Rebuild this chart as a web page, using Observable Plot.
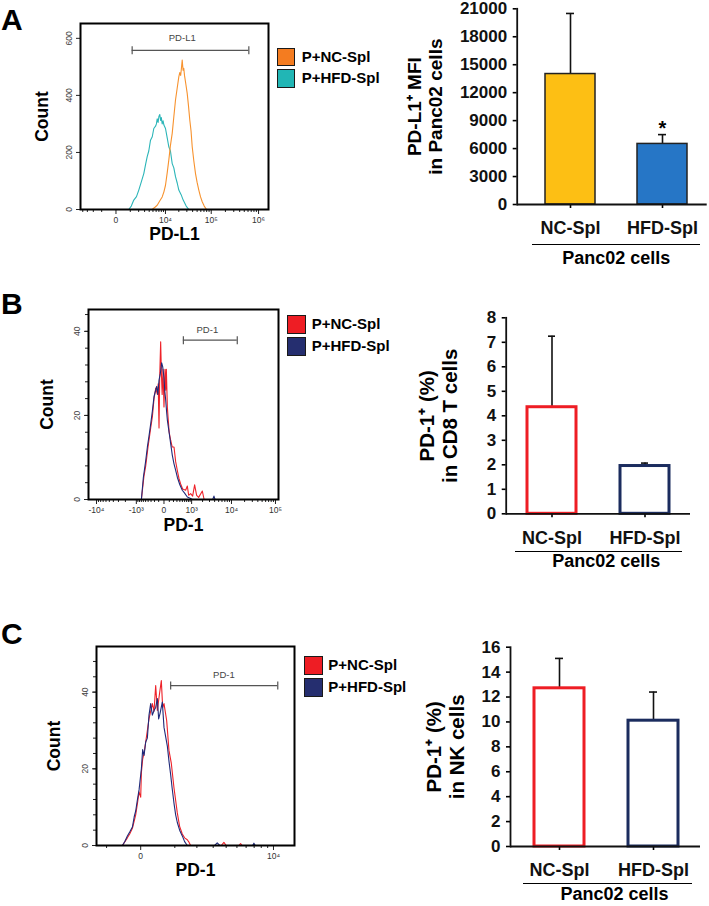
<!DOCTYPE html>
<html><head><meta charset="utf-8">
<script src="https://cdn.jsdelivr.net/npm/d3@7"></script>
<script src="https://cdn.jsdelivr.net/npm/@observablehq/plot@0.6"></script>
<style>
body{margin:0;background:#fff;}
#fig{position:relative;width:709px;height:906px;overflow:hidden;font-family:"Liberation Sans",Arial,sans-serif;color:#000;}
.abs{position:absolute;}
.letter{position:absolute;font-weight:bold;font-size:30px;line-height:30px;}
.lg{position:absolute;font-weight:bold;font-size:15px;white-space:nowrap;}
.sw{position:absolute;box-sizing:border-box;border:1.5px solid #1a1a1a;}
.ul{position:absolute;height:0;border-top:1.6px solid #000;}
</style></head><body><div id="fig"></div>
<script>
// ---------- shared categories ----------
const groups = ["NC-Spl", "HFD-Spl"];
const legendNames = ["P+NC-Spl", "P+HFD-Spl"];

// ---------- Panel A histogram (PD-L1 on Panc02) ----------
const aNcX = [4780, 5600, 6370, 7200, 8390, 9200, 10020, 11000, 11930, 13000, 14250, 15500, 16890, 18400, 20000, 21000, 22000, 23000, 23760, 24800, 25700, 26680, 28500, 30540, 32500, 34790, 37000, 39200, 42500, 46180, 50000, 54370, 59000, 64270, 71000, 79420];
const aNcN = [0, 8, 15, 28, 44, 62, 85, 130, 173, 225, 267, 325, 384, 425, 465, 480, 470, 500, 524, 488, 495, 470, 440, 407, 365, 313, 275, 220, 170, 126, 95, 68, 45, 27, 12, 0];
const aHfdX = [860, 1100, 1370, 1700, 2020, 2400, 2850, 3200, 3540, 3900, 4330, 4800, 5250, 5800, 6100, 6370, 6700, 7000, 7360, 7700, 8000, 8390, 8800, 9200, 10020, 11000, 11930, 13000, 14250, 15500, 16890, 18500, 20000, 22500, 24980, 29000, 33100];
const aHfdN = [0, 12, 33, 45, 68, 96, 126, 158, 185, 205, 243, 255, 284, 292, 300, 318, 305, 326, 333, 312, 322, 300, 311, 296, 284, 250, 220, 205, 161, 146, 115, 92, 68, 52, 33, 12, 0];
const aXTicks = [0, 1e4, 1e5, 1e6];
const aXTickLabels = ["0", "10⁴", "10⁵", "10⁶"];
const aYTicks = [0, 200, 400, 600];
const aGate = {x1: 1190, x2: 624000, y: 558, labelX: 23800, label: "PD-L1"};

// ---------- Panel B histogram (PD-1 on CD8 T) ----------
const bNcX = [-698, -568, -495, -404, -311, -259, -212, -168, -128, -110, -92, -78, -59, -45, -31, -16, 0, 17, 29, 41, 60, 73, 97, 130, 166, 214, 261, 313, 368, 431, 512, 650, 738, 813, 935, 1071, 1221, 1389, 1575, 1972, 2193];
const bNcN = [0, 5.7, 8, 12.5, 17, 19.7, 24, 26.5, 25, 27.5, 17, 29, 37.5, 30, 25, 31, 22, 31, 26, 31, 22, 19.7, 16, 14.1, 12.5, 12.5, 9, 6.9, 5, 3.7, 2.5, 2.2, 3.2, 1, 1.4, 0.8, 3.5, 1, 0.5, 2, 0];
const bHfdX = [-698, -599, -500, -428, -370, -311, -260, -212, -168, -144, -118, -92, -65, -40, -22, 0, 12, 29, 45, 60, 95, 130, 170, 214, 260, 313, 400, 498, 600, 738, 900, 1048, 3600, 3855, 4100];
const bHfdN = [0, 5.3, 9, 12.5, 15, 18, 21, 24.5, 26, 26.9, 25, 28.4, 30, 32.5, 31.6, 29, 26, 23.7, 21, 18.9, 16, 13.3, 10.5, 8.5, 7, 5.3, 3.5, 2.2, 1.5, 0.6, 0.3, 0, 0, 0.8, 0];
const bXTicks = [-1e4, -1e3, 0, 1e3, 1e4, 1e5];
const bXTickLabels = ["-10⁴", "-10³", "0", "10³", "10⁴", "10⁵"];
const bYTicks = [0, 20, 40];
const bGate = {x1: 543, x2: 13600, y: 37.9, labelX: 2650, label: "PD-1"};

// ---------- Panel C histogram (PD-1 on NK) ----------
const cNcX = [-469, -328, -266, -196, -115, -74, -37, 0, 15, 44, 76, 155, 196, 283, 328, 374, 421, 475, 539, 581, 623, 710, 788, 871, 969, 1096, 1189, 1301, 1401, 1522, 1608, 1680, 3600, 3810, 4000, 5200, 5380, 5550];
const cNcN = [0, 2, 3, 4.5, 8, 11, 14, 12.6, 19, 22.5, 24, 30, 33, 37, 35, 41.7, 35.2, 39, 43, 36, 37, 32.6, 24.8, 21.4, 15, 8.5, 5, 3, 2, 1.5, 0.8, 0, 0, 0.8, 0, 0, 0.5, 0];
const cHfdX = [-469, -402, -328, -266, -196, -151, -115, -74, -37, 15, 44, 76, 115, 155, 196, 239, 283, 328, 374, 421, 459, 499, 570, 623, 731, 788, 847, 900, 969, 1032, 1096, 1189, 1301, 1401, 1522, 3100, 3290, 3480, 6800, 6970, 7150];
const cHfdN = [0, 1, 2.5, 3.5, 4.8, 7.5, 9, 12, 14.5, 20, 25, 23.5, 27, 28, 34, 37, 34, 35.2, 36, 38.3, 33, 34.4, 37.4, 30.8, 26, 22, 18.5, 15, 11, 8, 6, 4, 2.5, 1, 0, 0, 0.7, 0, 0, 0.6, 0];
const cXTicks = [0, 1e4];
const cXTickLabels = ["0", "10⁴"];
const cYTicks = [0, 20, 40];
const cGate = {x1: 847, x2: 10800, y: 41.7, labelX: 3810, label: "PD-1"};

// ---------- Bar charts ----------
const mfiMean = [14000, 6500];
const mfiErr = [6500, 1000];
const mfiSig = ["", "*"];
const mfiTicks = [0, 3000, 6000, 9000, 12000, 15000, 18000, 21000];

const cd8Mean = [4.35, 1.95];
const cd8Err = [2.9, 0.12];
const cd8Ticks = [0, 1, 2, 3, 4, 5, 6, 7, 8];

const nkMean = [12.7, 10.1];
const nkErr = [2.4, 2.3];
const nkTicks = [0, 2, 4, 6, 8, 10, 12, 14, 16];

// ---------- helpers ----------
const mult = (base, from, to) => d3.range(from, to + 1).map(m => m * base);
const aXMinor = [-4000, -3000, -2000, -1000, ...mult(1e3, 1, 9), ...mult(1e4, 2, 9), ...mult(1e5, 2, 9)];
const bXMinor = [...mult(-1e3, 2, 9), ...mult(-1e2, 1, 9), ...mult(1e2, 1, 9), ...mult(1e3, 2, 9), ...mult(1e4, 2, 9)];
const cXMinor = [-1000, ...mult(1e3, 1, 9)];
const fontFamily = "Liberation Sans, Arial, sans-serif";
const fig = document.getElementById("fig");

function place(node, left, top) {
  const d = document.createElement("div");
  d.className = "abs"; d.style.left = left + "px"; d.style.top = top + "px";
  d.appendChild(node); fig.appendChild(d);
}
const capSymbol = {draw(ctx, size) { const r = Math.sqrt(size / Math.PI); ctx.moveTo(0, -r); ctx.lineTo(0, r); }};

function hist(o) {
  const labelOf = new Map(o.xTicks.map((t, i) => [t, o.xLabels[i]]));
  const marks = [
    Plot.axisX({ticks: o.xMinor, tickSize: 3, tickFormat: () => "", label: null, stroke: "#222"}),
    Plot.axisX({ticks: o.xTicks, tickSize: 5, tickPadding: 2, tickFormat: d => labelOf.get(d), label: null, fontSize: 8.5, fill: "#333", stroke: "#222"}),
    Plot.axisY({ticks: o.yMinor, tickSize: 3, tickFormat: () => "", label: null, stroke: "#222"}),
    Plot.axisY({ticks: o.yTicks, tickSize: 4, tickFormat: () => "", label: null, stroke: "#222"}),
    Plot.text(o.yTicks, {y: d => d, frameAnchor: "left", dx: -11, rotate: -90, textAnchor: "middle", text: d => String(d), fontSize: 8.5, fill: "#444"})
  ];
  for (const s of o.series) {
    marks.push(Plot.line(s.x.map((x, i) => ({x, y: s.n[i]})), {x: "x", y: "y", stroke: s.color, strokeWidth: 1.1}));
  }
  const g = o.gate;
  marks.push(
    Plot.ruleY([g.y], {x1: g.x1, x2: g.x2, stroke: "#555", strokeWidth: 1.2}),
    Plot.dot([g.x1, g.x2], {x: d => d, y: g.y, r: 4, symbol: capSymbol, stroke: "#555", strokeWidth: 1.2}),
    Plot.text([g.label], {x: g.labelX, y: g.y, dy: o.gateDy, text: d => d, fontSize: 9.5, fill: "#444"}),
    Plot.frame({stroke: "#000", strokeWidth: 2}),
    Plot.text([o.xTitle], {text: d => d, frameAnchor: "bottom", dy: o.xTitleDy, fontSize: 17.5, fontWeight: "bold"}),
    Plot.text(["Count"], {text: d => d, frameAnchor: "left", dx: o.countDx, rotate: -90, textAnchor: "middle", fontSize: 17.5, fontWeight: "bold"})
  );
  return Plot.plot({
    width: o.width, height: o.height,
    marginLeft: o.m[0], marginRight: o.m[1], marginTop: o.m[2], marginBottom: o.m[3],
    style: {fontFamily, background: "transparent", overflow: "visible"},
    x: {type: "symlog", constant: o.constant, domain: o.xDomain},
    y: {domain: o.yDomain},
    marks
  });
}

function bars(o) {
  const rows = groups.map((g, i) => ({g, v: o.mean[i], top: o.mean[i] + o.err[i], sig: o.sig ? o.sig[i] : ""}));
  const marks = [];
  rows.forEach((r, i) => {
    marks.push(Plot.ruleX([r], {x: "g", y1: "v", y2: "top", stroke: "#111", strokeWidth: 1.6}));
    marks.push(Plot.tickY([r], {x: "g", y: "top", insetLeft: o.capInset, insetRight: o.capInset, stroke: "#111", strokeWidth: 1.6}));
    marks.push(Plot.barY([r], {x: "g", y: "v", fill: o.fill[i], stroke: o.stroke[i], strokeWidth: o.sw}));
  });
  marks.push(
    Plot.text(rows.filter(d => d.sig), {x: "g", y: "top", text: "sig", dy: -6.5, fontSize: 20, fontWeight: "bold"}),
    Plot.axisY({ticks: o.ticks, tickSize: 4, tickPadding: 6, tickFormat: d => String(d), fontSize: 17, fontWeight: "bold", fill: "#111", label: null, strokeWidth: 1.6}),
    Plot.axisX({tickSize: 4, tickPadding: 13, fontSize: 18, fontWeight: "bold", fill: "#111", label: null, strokeWidth: 1.6}),
    Plot.ruleY([0], {stroke: "#111", strokeWidth: 1.8}),
    Plot.frame({anchor: "left", stroke: "#111", strokeWidth: 1.8}),
    Plot.text([o.title], {text: d => d, frameAnchor: "left", dx: o.titleDx, rotate: -90, textAnchor: "middle", fontSize: o.titleSize, fontWeight: "bold", lineHeight: 1.1}),
    Plot.text(["Panc02 cells"], {text: d => d, frameAnchor: "bottom", dx: o.groupDx, dy: o.groupDy, fontSize: 18, fontWeight: "bold"})
  );
  return Plot.plot({
    width: o.width, height: o.height,
    marginLeft: o.m[0], marginRight: o.m[1], marginTop: o.m[2], marginBottom: o.m[3],
    style: {fontFamily, background: "transparent", overflow: "visible"},
    x: {domain: groups, paddingInner: o.band[0], paddingOuter: o.band[1], align: o.band[2], axis: null},
    y: {domain: o.yDomain, axis: null},
    marks
  });
}

// ---------- draw histograms ----------
place(hist({
  width: 275, height: 260, m: [80, 7, 23, 51], constant: 1000, xDomain: [-4580, 1.62e6], yDomain: [0, 652],
  xTicks: aXTicks, xLabels: aXTickLabels, xMinor: aXMinor, yTicks: aYTicks, yMinor: [],
  series: [{x: aHfdX, n: aHfdN, color: "#2bb5b8"}, {x: aNcX, n: aNcN, color: "#f7922e"}],
  gate: aGate, gateDy: -12.7, xTitle: "PD-L1", xTitleDy: 30, countDx: -38
}), 0, 0);

place(hist({
  width: 285, height: 270, m: [88, 7, 19, 61], constant: 315, xDomain: [-15280, 117000], yDomain: [0, 45.2],
  xTicks: bXTicks, xLabels: bXTickLabels, xMinor: bXMinor, yTicks: bYTicks, yMinor: mult(4, 0, 11),
  series: [{x: bNcX, n: bNcN, color: "#ee2229"}, {x: bHfdX, n: bHfdN, color: "#1f2a7a"}],
  gate: bGate, gateDy: -10, xTitle: "PD-1", xTitleDy: 31, countDx: -41
}), 0, 290);

place(hist({
  width: 300, height: 300, m: [96, 6, 46, 55], constant: 1400, xDomain: [-1414, 14490], yDomain: [0, 51.9],
  xTicks: cXTicks, xLabels: cXTickLabels, xMinor: cXMinor, yTicks: cYTicks, yMinor: mult(4, 0, 12),
  series: [{x: cNcX, n: cNcN, color: "#ee2229"}, {x: cHfdX, n: cHfdN, color: "#1f2a7a"}],
  gate: cGate, gateDy: -11, xTitle: "PD-1", xTitleDy: 30, countDx: -42
}), 0, 600);

// ---------- draw bar charts ----------
place(bars({
  width: 349, height: 280, m: [156.7, 2.3, 8.3, 76], band: [0.455, 0.2523, 0.6],
  mean: mfiMean, err: mfiErr, sig: mfiSig, ticks: mfiTicks, yDomain: [0, 21000],
  fill: ["#fdbf14", "#2676c6"], stroke: ["#222", "#222"], sw: 1.5, capInset: 21,
  title: "PD-L1⁺ MFI\nin Panc02 cells", titleDx: -92.7, titleSize: 19, groupDx: 4, groupDy: 59.3
}), 360, 0);

place(bars({
  width: 349, height: 300, m: [145.7, 19, 27.3, 76.7], band: [0.468, 0.2216, 0.52],
  mean: cd8Mean, err: cd8Err, ticks: cd8Ticks, yDomain: [0, 8],
  fill: ["#fff", "#fff"], stroke: ["#ee1d24", "#1b2c5e"], sw: 3, capInset: 21,
  title: "PD-1⁺ (%)\nin CD8 T cells", titleDx: -68, titleSize: 20.5, groupDx: 8, groupDy: 52.7
}), 360, 290);

place(bars({
  width: 349, height: 296, m: [150, 9, 36.7, 60], band: [0.4655, 0.24, 0.525],
  mean: nkMean, err: nkErr, ticks: nkTicks, yDomain: [0, 16],
  fill: ["#fff", "#fff"], stroke: ["#ee1d24", "#1b2c5e"], sw: 3, capInset: 21,
  title: "PD-1⁺ (%)\nin NK cells", titleDx: -65, titleSize: 20.5, groupDx: 9, groupDy: 53
}), 360, 610);

// ---------- html decorations: panel letters, legends, group underlines ----------
function addDiv(cls, styles, text) {
  const d = document.createElement("div"); d.className = cls;
  Object.assign(d.style, styles); if (text) d.textContent = text; fig.appendChild(d);
}
addDiv("letter", {left: "1px", top: "5.4px"}, "A");
addDiv("letter", {left: "1px", top: "289.4px"}, "B");
addDiv("letter", {left: "1px", top: "619.4px"}, "C");

function legend(x, ys, colors, textX) {
  ys.forEach((y, i) => {
    addDiv("sw", {left: x + "px", top: y + "px", width: "18.5px", height: "18.5px", background: colors[i]});
    addDiv("lg", {left: textX + "px", top: y + "px", lineHeight: "18.5px"}, legendNames[i]);
  });
}
legend(276.7, [47.7, 69.3], ["#f47c20", "#21b6b5"], 301.7);
legend(287.3, [315, 337], ["#ee1d24", "#252e6f"], 311.7);
legend(304, [656, 678], ["#ee1d24", "#252e6f"], 328.3);

addDiv("ul", {left: "532px", top: "244.2px", width: "168px"});
addDiv("ul", {left: "515px", top: "551px", width: "167px"});
addDiv("ul", {left: "523px", top: "883.2px", width: "169px"});
</script></body></html>
